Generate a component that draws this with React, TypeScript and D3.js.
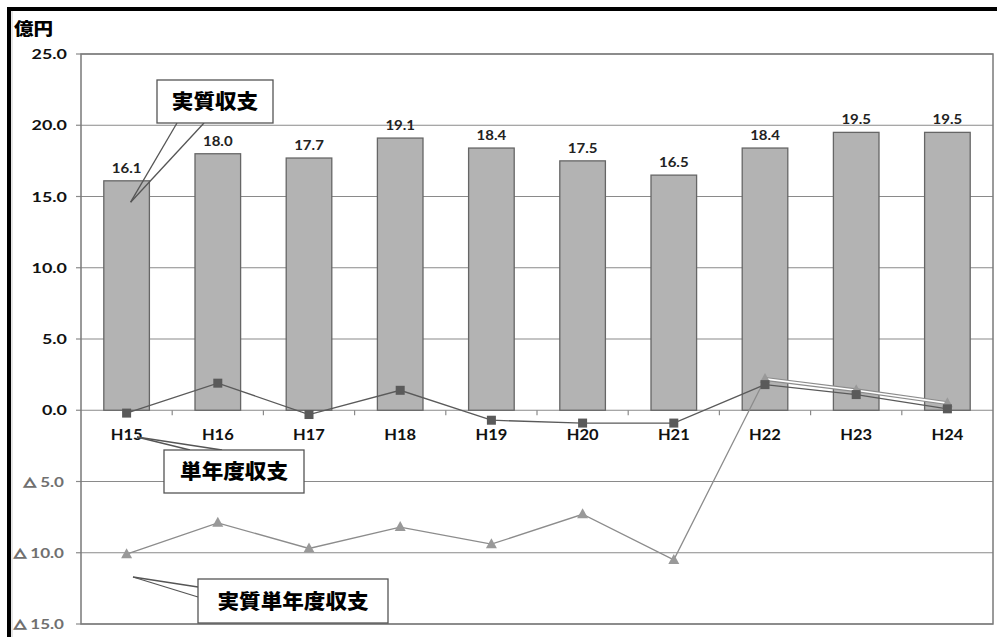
import React from 'react'
import * as d3 from 'd3'

// 年度
const categories = ['H15', 'H16', 'H17', 'H18', 'H19', 'H20', 'H21', 'H22', 'H23', 'H24']
// 実質収支（棒）
const jisshitsuShushi = [16.1, 18.0, 17.7, 19.1, 18.4, 17.5, 16.5, 18.4, 19.5, 19.5]
// 単年度収支（■）
const tannendoShushi = [-0.2, 1.9, -0.3, 1.4, -0.7, -0.9, -0.9, 1.8, 1.1, 0.1]
// 実質単年度収支（▲）
const jisshitsuTannendo = [-10.1, -7.9, -9.7, -8.2, -9.4, -7.3, -10.5, 2.2, 1.4, 0.5]
const yTicks = [25, 20, 15, 10, 5, 0, -5, -10, -15]

const W = 997
const H = 637
const left = 81
const right = 993
const top = 54
const bottom = 624

const numFont = 'Lato, "Open Sans", sans-serif'
const jpFont = '"Noto Sans CJK JP", sans-serif'

// the original picture is stretched sideways, so text is widened a bit
const Txt = ({ x, y, sx = 1.2, anchor = 'start', size, fill = '#111', font = numFont, weight = 700, children }: any) => (
	<text
		transform={`translate(${x},${y}) scale(${sx},1)`}
		textAnchor={anchor}
		fontFamily={font}
		fontWeight={weight}
		fontSize={size}
		fill={fill}
	>
		{children}
	</text>
)

const App = () => {
	const x = d3.scaleBand().domain(categories).range([left, right])
	const y = d3.scaleLinear().domain([-15, 25]).range([bottom, top])
	const bw = x.bandwidth() * 0.5
	const cx = (c: string) => (x(c) as number) + x.bandwidth() / 2

	const line = d3
		.line<number>()
		.x((d, i) => cx(categories[i]))
		.y(d => y(d))

	const tri = (px: number, py: number) =>
		`M${px},${py - 6}L${px + 5.5},${py + 4}L${px - 5.5},${py + 4}Z`

	// 実質単年度収支 のプラス圏（H22以降）は二重線
	const lateIdx = jisshitsuTannendo.map((d, i) => i).filter(i => i >= 7)
	const lateLine = d3
		.line<number>()
		.x(i => cx(categories[i]))
		.y(i => y(jisshitsuTannendo[i]))

	return (
		<div style={{ position: 'absolute', left: 0, top: 0 }}>
			<svg width={W} height={H} style={{ display: 'block', background: '#fff' }}>
				{/* outer frame */}
				<rect x={7} y={7} width={W - 7} height={4} fill='#000' />
				<rect x={7} y={7} width={4} height={H - 7} fill='#000' />
				<line x1={12} x2={12} y1={11} y2={H} stroke='#ccc' />

				{/* grid */}
				{yTicks.map(t => (
					<g key={t}>
						<line x1={left} x2={right} y1={y(t)} y2={y(t)} stroke='#8a8a8a' strokeWidth={1.2} />
						<line x1={left - 5} x2={left} y1={y(t)} y2={y(t)} stroke='#8a8a8a' strokeWidth={1.2} />
						{t >= 0 ? (
							<Txt x={67} y={y(t) + 5} anchor='end' size={14} sx={1.28}>
								{t.toFixed(1)}
							</Txt>
						) : (
							<Txt x={64} y={y(t) + 5} anchor='end' size={14} sx={1.22} fill='#707070'>
								<tspan fontFamily={jpFont} fontWeight={900} fontSize={10} stroke='#707070' strokeWidth={1.3}>
									△
								</tspan>
								{' ' + Math.abs(t).toFixed(1)}
							</Txt>
						)}
					</g>
				))}
				<rect x={left} y={top} width={right - left} height={bottom - top} fill='none' stroke='#7a7a7a' strokeWidth={1.5} />

				{/* bars */}
				{categories.map((c, i) => (
					<g key={c}>
						<rect
							x={cx(c) - bw / 2}
							y={y(jisshitsuShushi[i])}
							width={bw}
							height={y(0) - y(jisshitsuShushi[i])}
							fill='#b3b3b3'
							stroke='#666'
							strokeWidth={1.3}
						/>
						<Txt x={cx(c)} y={y(jisshitsuShushi[i]) - 8} anchor='middle' size={12.5} sx={1.2} fill='#222'>
							{jisshitsuShushi[i].toFixed(1)}
						</Txt>
					</g>
				))}

				{/* x axis ticks and labels */}
				{categories.map((c, i) => (
					<g key={c}>
						{i > 0 && (
							<line x1={x(c)} x2={x(c)} y1={y(0)} y2={y(0) + 5} stroke='#8a8a8a' strokeWidth={1.2} />
						)}
						<Txt x={cx(c)} y={y(0) + 30} anchor='middle' size={15} sx={1.1}>
							{c}
						</Txt>
					</g>
				))}

				{/* 実質単年度収支 */}
				<path d={lateLine(lateIdx) as string} fill='none' stroke='#8c8c8c' strokeWidth={4} />
				<path d={lateLine(lateIdx) as string} fill='none' stroke='#fff' strokeWidth={1.6} />
				<path d={line(jisshitsuTannendo.slice(0, 8)) as string} fill='none' stroke='#8c8c8c' strokeWidth={1.3} />
				{jisshitsuTannendo.map((v, i) => (
					<path key={i} d={tri(cx(categories[i]), y(v))} fill='#999' />
				))}

				{/* 単年度収支 */}
				<path d={line(tannendoShushi) as string} fill='none' stroke='#5a5a5a' strokeWidth={1.3} />
				{tannendoShushi.map((v, i) => (
					<rect key={i} x={cx(categories[i]) - 4.5} y={y(v) - 4.5} width={9} height={9} fill='#5a5a5a' />
				))}

				{/* unit */}
				<Txt x={14} y={35} size={17} sx={1.15} font={jpFont} weight={900} fill='#000'>
					億円
				</Txt>

				{/* callouts */}
				<g stroke='#555' strokeWidth={1.3} fill='none'>
					<line x1={177} y1={123} x2={cx('H15') + 4} y2={y(14.6)} />
					<line x1={204} y1={123} x2={cx('H15') + 4} y2={y(14.6)} />
					<line x1={190} y1={450} x2={137} y2={437} />
					<line x1={222} y1={450} x2={137} y2={437} />
					<line x1={198} y1={587} x2={133} y2={577} />
					<line x1={198} y1={597} x2={133} y2={577} />
				</g>
				<rect x={157} y={80} width={116} height={43} fill='#fff' stroke='#555' strokeWidth={1.3} />
				<Txt x={215} y={109} anchor='middle' size={20} sx={1.08} font={jpFont} weight={900} fill='#000'>
					実質収支
				</Txt>
				<rect x={164} y={450} width={140} height={43} fill='#fff' stroke='#555' strokeWidth={1.3} />
				<Txt x={234} y={479} anchor='middle' size={20} sx={1.08} font={jpFont} weight={900} fill='#000'>
					単年度収支
				</Txt>
				<rect x={198} y={579} width={190} height={44} fill='#fff' stroke='#555' strokeWidth={1.3} />
				<Txt x={293} y={609} anchor='middle' size={20} sx={1.08} font={jpFont} weight={900} fill='#000'>
					実質単年度収支
				</Txt>
			</svg>
		</div>
	)
}

export default App
